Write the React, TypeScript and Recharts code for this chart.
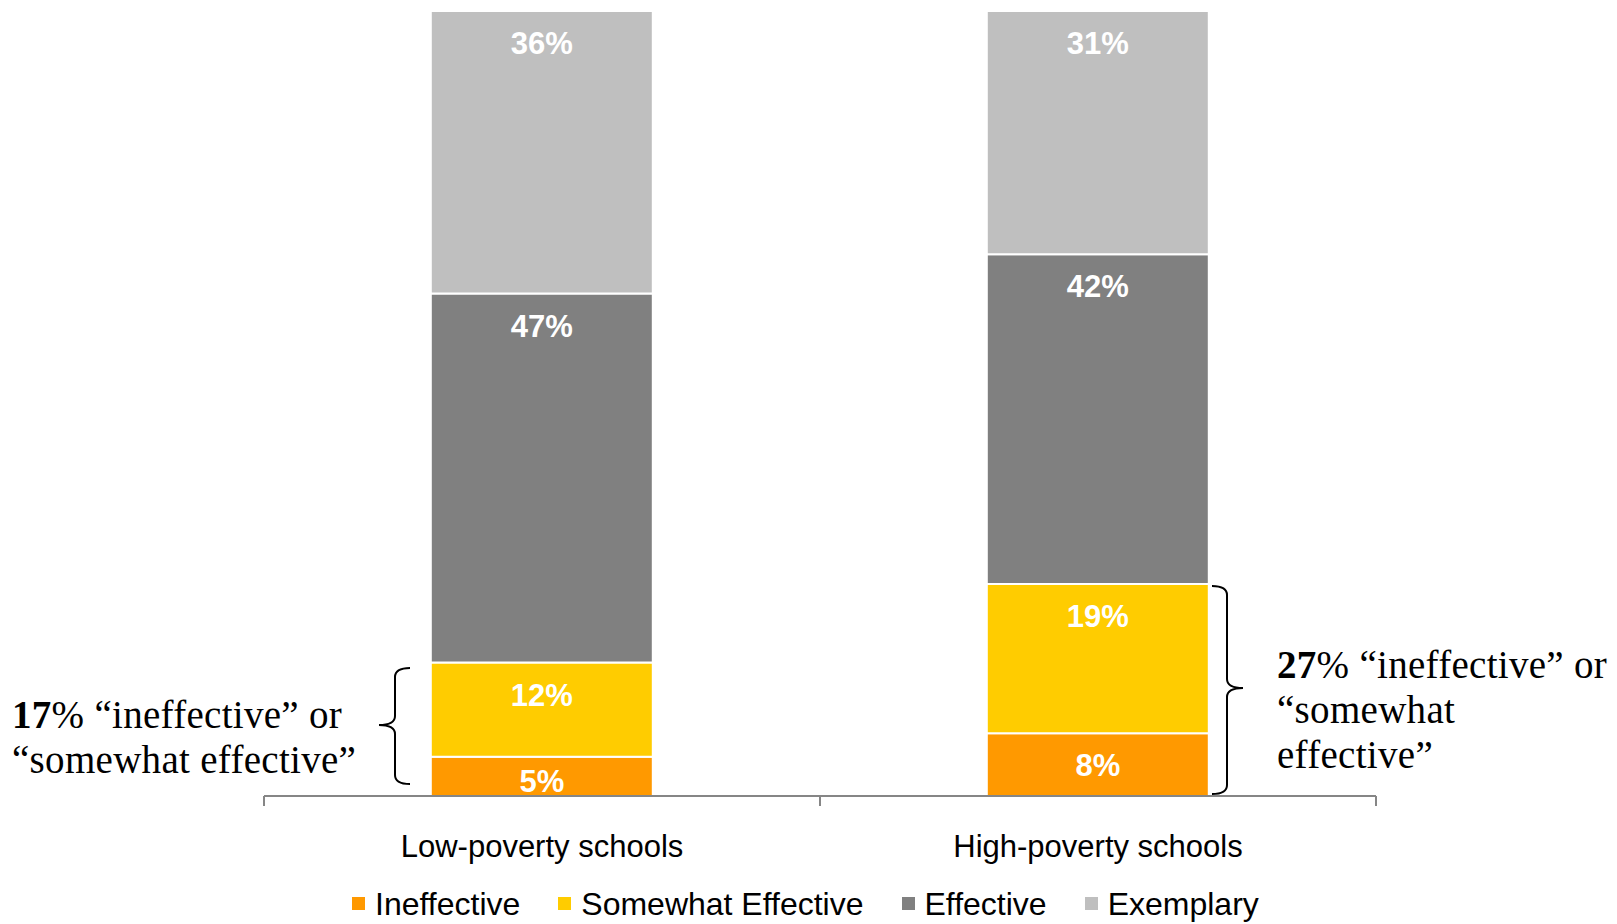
import { BarChart, Bar, XAxis, YAxis, Legend, LabelList } from "recharts"

// categories and values (bottom to top of each stack)
const categories = ['Low-poverty schools', 'High-poverty schools']
const ineffective = [5, 8]
const somewhatEffective = [12, 19]
const effective = [47, 42]
const exemplary = [36, 31]

const SERIES = [
  { key: 'ineffective', name: 'Ineffective', color: '#FF9900' },
  { key: 'somewhat', name: 'Somewhat Effective', color: '#FFCC00' },
  { key: 'effective', name: 'Effective', color: '#808080' },
  { key: 'exemplary', name: 'Exemplary', color: '#BFBFBF' },
]

const data = categories.map((name, i) => ({
  name,
  ineffective: ineffective[i],
  somewhat: somewhatEffective[i],
  effective: effective[i],
  exemplary: exemplary[i],
}))

const SANS = '"Liberation Sans", Arial, sans-serif'
const SERIF = '"Liberation Serif", "Times New Roman", serif'

const SegmentLabel = (props: any) => {
  const { x, y, width, height, value } = props
  const baseline = Math.min(y + 43, y + height - 4)
  return (
    <text x={x + width / 2} y={baseline} textAnchor="middle" fill="#fff"
      style={{ fontFamily: SANS, fontSize: 31, fontWeight: 700 }}>
      {value}%
    </text>
  )
}

const CategoryTick = (props: any) => {
  const { x, y, payload, index } = props
  const half = payload?.offset ?? 278
  const axisY = y - 10
  return (
    <g>
      {index === 0 && <line x1={x - half} x2={x - half} y1={axisY} y2={axisY + 10} stroke="#868686" strokeWidth={2} />}
      <line x1={x + half} x2={x + half} y1={axisY} y2={axisY + 10} stroke="#868686" strokeWidth={2} />
      <text x={x} y={axisY + 61} textAnchor="middle" fill="#000"
        style={{ fontFamily: SANS, fontSize: 31 }}>
        {payload.value}
      </text>
    </g>
  )
}

const LegendContent = (props: any) => {
  const order = SERIES.map(s => s.name)
  const payload = [...(props.payload || [])].sort((a: any, b: any) => order.indexOf(a.value) - order.indexOf(b.value))
  return (
    <div style={{ display: 'flex', gap: 38, fontFamily: SANS, fontSize: 32, lineHeight: '32px', color: '#000', whiteSpace: 'nowrap' }}>
      {payload.map((p: any) => (
        <div key={p.value} style={{ display: 'flex', alignItems: 'flex-start' }}>
          <span style={{ display: 'inline-block', width: 13, height: 13, background: p.color, marginTop: 9, marginRight: 10 }} />
          <span>{p.value}</span>
        </div>
      ))}
    </div>
  )
}

// curly brace path, opening to the side of xEnd
function bracePath(xEnd: number, xv: number, xTip: number, y1: number, ym: number, y2: number) {
  const r = 9
  return `M ${xEnd} ${y1} Q ${xv} ${y1} ${xv} ${y1 + r} L ${xv} ${ym - r} Q ${xv} ${ym} ${xTip} ${ym} ` +
    `Q ${xv} ${ym} ${xv} ${ym + r} L ${xv} ${y2 - r} Q ${xv} ${y2} ${xEnd} ${y2}`
}

export default function App() {
  return (
    <div style={{ position: 'absolute', left: 0, top: 0, width: 1617, height: 924, background: '#fff', overflow: 'hidden' }}>
      <BarChart width={1617} height={924} data={data}
        margin={{ top: 11, right: 241, left: 264, bottom: 28 }}
        barCategoryGap="30%">
        <XAxis dataKey="name" height={100} tickSize={10} tickMargin={0} tickLine={false}
          axisLine={{ stroke: '#868686', strokeWidth: 2 }} tick={<CategoryTick />} interval={0} />
        <YAxis hide domain={[0, 100]} />
        <Legend layout="horizontal" verticalAlign="middle" align="center" content={<LegendContent />}
          wrapperStyle={{ top: 888, left: 352, width: 'auto', height: 'auto' }} />
        {SERIES.map(s => (
          <Bar key={s.key} dataKey={s.key} name={s.name} stackId="a" fill={s.color}
            stroke="#fff" strokeWidth={2} isAnimationActive={false}>
            <LabelList dataKey={s.key} content={<SegmentLabel />} />
          </Bar>
        ))}
      </BarChart>

      {/* annotations */}
      <svg width={1617} height={924} style={{ position: 'absolute', left: 0, top: 0, pointerEvents: 'none' }}>
        <path d={bracePath(410, 395, 379, 668, 725, 784)} fill="none" stroke="#000" strokeWidth={2} />
        <path d={bracePath(1212, 1227, 1243, 586, 688, 794)} fill="none" stroke="#000" strokeWidth={2} />
        <g style={{ fontFamily: SERIF, fontSize: 39, letterSpacing: 0.3 }} fill="#000">
          <text x={12} y={728}><tspan fontWeight={700}>17</tspan>% “ineffective” or</text>
          <text x={12} y={773}>“somewhat effective”</text>
          <text x={1277} y={678}><tspan fontWeight={700}>27</tspan>% “ineffective” or</text>
          <text x={1277} y={723}>“somewhat</text>
          <text x={1277} y={768}>effective”</text>
        </g>
      </svg>
    </div>
  )
}
